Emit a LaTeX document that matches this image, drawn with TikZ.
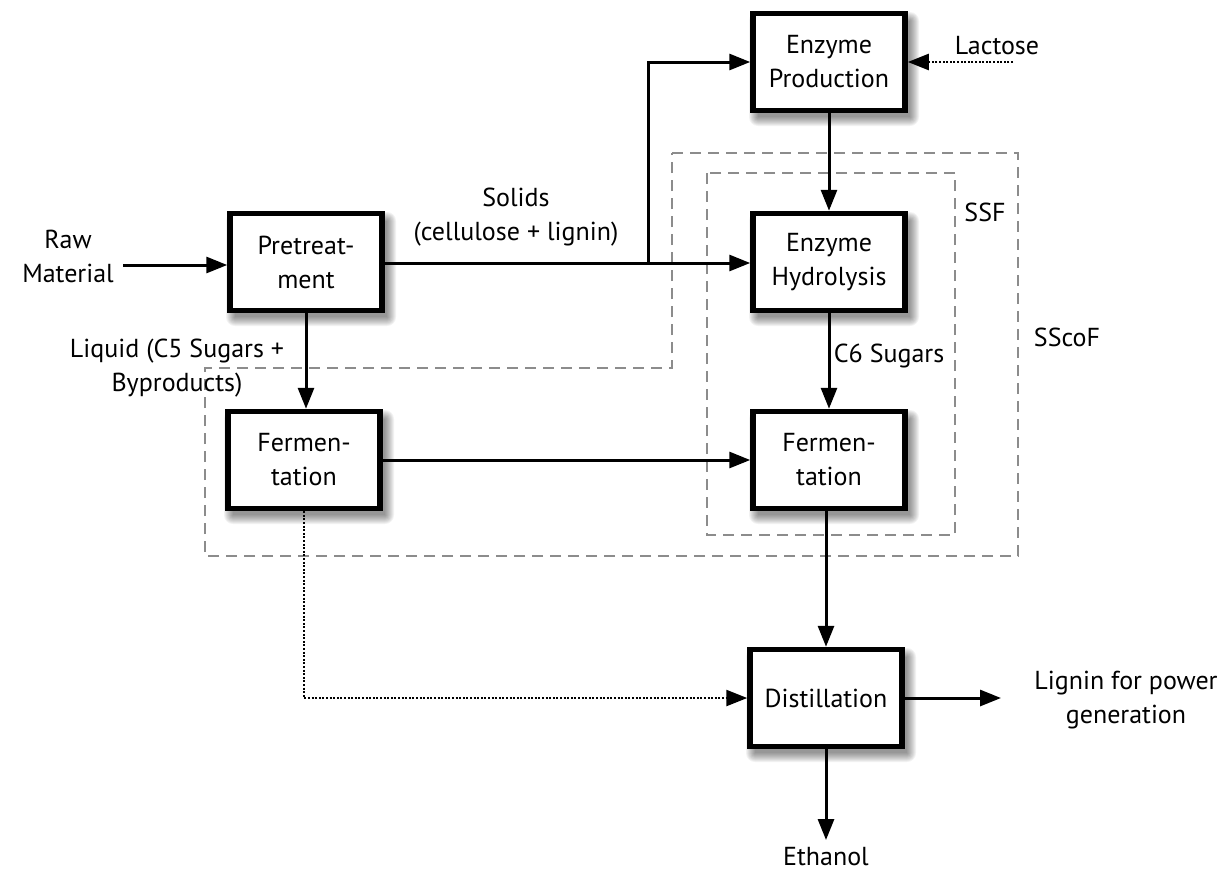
\documentclass[tikz,border=0pt]{standalone}
\usepackage{fontspec}
\setmainfont{PT Sans}
\usetikzlibrary{arrows.meta}
\begin{document}
\begin{tikzpicture}[x=1pt,y=-1pt,
  font=\fontsize{26}{34}\selectfont,
  proc/.style={draw=black, line width=5.5pt, fill=white,
    minimum width=152pt, minimum height=97pt, align=center, inner sep=0pt},
  flow/.style={line width=3pt, -{Triangle[length=21pt,width=16pt]}},
  dots/.style={line width=2.4pt, dash pattern=on 2pt off 1.6pt},
  region/.style={draw=black!45, line width=1.8pt, dash pattern=on 11pt off 7pt},
  lbl/.style={align=center, inner sep=1pt}]
\useasboundingbox (0,0) rectangle (1225,876);

% process-boundary regions
\draw[region] (707,173) rectangle (955,535);
\draw[region] (672,153) -- (1018,153) -- (1018,556) -- (205,556)
  -- (205,368) -- (672,368) -- cycle;

% soft drop shadows under the process boxes
\foreach \cx/\cy in {829/62,306/262,829/262,304/460,829/460,826/698}{
  \foreach \k in {0,...,9}{
    \fill[black, opacity=0.05, rounded corners=\k pt]
      ([shift={(-71pt-\k pt,41pt+\k pt)}]\cx,\cy)
      rectangle ([shift={(81pt+\k pt,-55pt-\k pt)}]\cx,\cy);
  }
}

% process steps
\node[proc] (prod) at (829,62)  {Enzyme\\Production};
\node[proc] (pre)  at (306,262) {Pretreat-\\ment};
\node[proc] (hyd)  at (829,262) {Enzyme\\Hydrolysis};
\node[proc] (fer1) at (304,460) {Fermen-\\tation};
\node[proc] (fer2) at (829,460) {Fermen-\\tation};
\node[proc] (dist) at (826,698) {Distillation};

% labels
\node[lbl] (raw) at (68,256) {Raw\\Material};
\node[lbl] (lac) at (997,46) {Lactose};
\node[lbl] (sol) at (516,217) {Solids\\(cellulose + lignin)};
\node[lbl] (liq) at (177,368) {Liquid (C5 Sugars +\\Byproducts)};
\node[lbl] (c6)  at (889,356) {C6 Sugars};
\node[lbl] (ssf) at (985,212) {SSF};
\node[lbl] (sscof) at (1067,337) {SScoF};
\node[lbl] (lig) at (1126,700) {Lignin for power\\generation};
\node[lbl] (eth) at (826,857) {Ethanol};

% free ends of connectors
\coordinate (rawout) at (123,265);
\coordinate (split)  at (648,263);
\coordinate (lacout) at (1013,62);
\coordinate (ligin)  at (1001,698);
\coordinate (ethin)  at (826,840);

% connectors
\draw[flow] (rawout) -- (rawout -| pre.west);
\draw[flow] (pre.east |- split) -- (split -| hyd.west);
\draw[flow] (split) |- (prod.west);
\draw[flow,dots] (lacout) -- (prod.east);
\draw[flow] (prod.south) -- (hyd.north);
\draw[flow] (hyd.south) -- (fer2.north);
\draw[flow] (pre.south) -- (pre.south |- fer1.north);
\draw[flow] (fer1.east) -- (fer2.west);
\draw[flow] (fer2.south -| dist.north) -- (dist.north);
\draw[flow,dots] (fer1.south) |- (dist.west);
\draw[flow] (dist.east) -- (ligin);
\draw[flow] (dist.south) -- (ethin);
\end{tikzpicture}
\end{document}
